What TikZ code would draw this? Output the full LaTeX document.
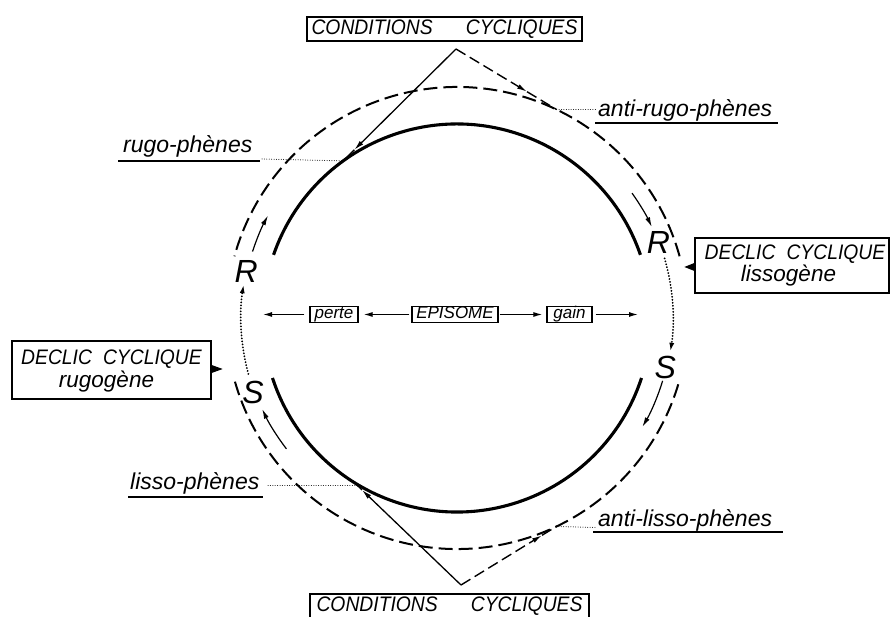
\documentclass[tikz,border=0pt]{standalone}
\usepackage{fontspec}
\setmainfont{Liberation Sans}
\newfontfamily\capsfont{Liberation Sans}[FakeStretch=0.92]
\usetikzlibrary{arrows.meta}
\begin{document}
\begin{tikzpicture}[x=1pt,y=1pt,
  solidarc/.style={line width=3.1pt},
  dasharc/.style={line width=2pt, dash pattern=on 14pt off 6pt},
  movearc/.style={line width=1.2pt, -{Latex[length=10pt,width=5pt]}},
  dotarc/.style={line width=2pt, dash pattern=on 0.01pt off 3pt, line cap=round, -{Latex[length=9pt,width=5pt]}},
  leader/.style={line width=1pt, dash pattern=on 0.01pt off 2.4pt, line cap=round},
  vsolid/.style={line width=1.3pt},
  vdash/.style={line width=1.4pt, dash pattern=on 11pt off 5pt},
  vtip/.style={-{Latex[length=10pt,width=5pt]}},
  uline/.style={line width=1.5pt},
  boxed/.style={draw, line width=1.3pt, inner sep=0pt},
  lbl/.style={font=\itshape\fontsize{23}{23}\selectfont, inner sep=0pt},
  lbltwo/.style={font=\itshape\fontsize{22.5}{22.5}\selectfont, inner sep=0pt},
  caps/.style={font=\capsfont\itshape\fontsize{21}{21}\selectfont},
  letter/.style={font=\itshape\fontsize{32}{32}\selectfont, inner sep=0pt},
  small/.style={font=\itshape\fontsize{17}{17}\selectfont, text height=12pt, text depth=3pt},
  ctip/.style={-{Latex[length=9pt,width=5pt]}}
]
\useasboundingbox (0,0) rectangle (890,617);
\coordinate (C) at (457,299);

% main arcs
\draw[solidarc] ([shift={(19:194)}]C) arc[start angle=19,end angle=161,radius=194];
\draw[solidarc] ([shift={(198:194)}]C) arc[start angle=198,end angle=342,radius=194];
\draw[dasharc] ([shift={(15.5:231)}]C) arc[start angle=15.5,end angle=164.5,radius=231];
\draw[dasharc] ([shift={(196:231)}]C) arc[start angle=196,end angle=344,radius=231];

% movement arrows
\draw[movearc] ([shift={(162:215)}]C) arc[start angle=162,end angle=151.5,radius=215];
\draw[movearc] ([shift={(35.5:215)}]C) arc[start angle=35.5,end angle=25,radius=215];
\draw[movearc] ([shift={(-17:215)}]C) arc[start angle=-17,end angle=-30.5,radius=215];
\draw[movearc] ([shift={(217.5:215)}]C) arc[start angle=217.5,end angle=205,radius=215];

% letters
\node[letter] (RL) at ([shift={(167.5:216)}]C) {R};
\node[letter] (SL) at ([shift={(200:217)}]C) {S};
\node[letter] (RR) at ([shift={(20.5:215)}]C) {R};
\node[letter] (SR) at ([shift={(-13.3:214)}]C) {S};

% dotted transitions
\draw[dotarc] ([shift={(195:216)}]C) arc[start angle=195,end angle=171,radius=216];
\draw[dotarc] ([shift={(16:216)}]C) arc[start angle=16,end angle=-9,radius=216];

% boxes CONDITIONS CYCLIQUES
\node[boxed, caps, minimum width=275pt, minimum height=24pt] (ct) at (444.5,588) {CONDITIONS\hspace{33pt}CYCLIQUES};
\node[boxed, caps, minimum width=279pt, minimum height=25pt] (cb) at (449.5,10.5) {CONDITIONS\hspace{33pt}CYCLIQUES};

% V top
\coordinate (A1) at (456,568);
\coordinate (T1) at (354.3,467.2);
\coordinate (E1) at (343.2,456.1);
\coordinate (DT1) at (527,525.3);
\coordinate (D1) at (556.7,507.4);
\draw[vsolid,vtip] (A1) -- (T1);
\draw[vsolid] (T1) -- (E1);
\draw[vdash,vtip] (A1) -- (DT1);
\draw[vdash] (DT1) -- (D1);

% V bottom
\coordinate (A2) at (461,32);
\coordinate (T2) at (362,127);
\coordinate (E2) at (354.6,134.2);
\coordinate (DT2) at (542,81.7);
\coordinate (D2) at (556.4,90.5);
\draw[vsolid,vtip] (A2) -- (T2);
\draw[vsolid] (T2) -- (E2);
\draw[vdash,vtip] (A2) -- (DT2);
\draw[vdash] (DT2) -- (D2);

% labels
\node[lbl, anchor=base west] (rugo) at (123,464) {rugo-phènes};
\draw[uline] (118,456) -- (260,456);
\coordinate (rugoL) at (262,458);
\draw[leader] (rugoL) -- (E1);

\node[lbl, anchor=base west] (arugo) at (598,500) {anti-rugo-phènes};
\draw[uline] (595,494) -- (778,494);
\coordinate (arugoL) at (597,507.4);
\draw[leader] (D1) -- (arugoL);

\node[lbl, anchor=base west] (lisso) at (130,127) {lisso-phènes};
\draw[uline] (128,120) -- (263,120);
\coordinate (lissoL) at (268,131);
\coordinate (lissoR) at (357,131);
\draw[leader] (lissoL) -- (lissoR);

\node[lbl, anchor=base west] (alisso) at (598,90) {anti-lisso-phènes};
\draw[uline] (593,85) -- (783,85);
\coordinate (alissoL) at (597,89.5);
\draw[leader] (D2) -- (alissoL);

% DECLIC boxes
\node[boxed, minimum width=194pt, minimum height=55pt] (dl) at (792,351.5) {};
\node[caps, anchor=base, inner sep=0pt] at (795,357) {DECLIC\hspace{11pt}CYCLIQUE};
\node[lbltwo, anchor=base] at (788.5,335) {lissogène};
\fill ([yshift=2.5pt]dl.west) -- ([xshift=-10pt,yshift=-1.5pt]dl.west) -- ([yshift=-5.5pt]dl.west) -- cycle;

\node[boxed, minimum width=199pt, minimum height=58pt] (dr) at (111.5,247) {};
\node[caps, anchor=base, inner sep=0pt] at (111.5,252) {DECLIC\hspace{11pt}CYCLIQUE};
\node[lbltwo, anchor=base] at (106.5,229) {rugogène};
\fill ([yshift=5pt]dr.east) -- ([xshift=11pt,yshift=1pt]dr.east) -- ([yshift=-3pt]dr.east) -- cycle;

% center row
\node[boxed, small, minimum width=48pt, minimum height=16pt] (perte) at (334,302.5) {perte};
\node[boxed, small, minimum width=86pt, minimum height=16pt] (epi) at (455,302.5) {EPISOME};
\node[boxed, small, minimum width=45pt, minimum height=16pt] (gain) at (569.5,302.5) {gain};
\coordinate (lend) at (263,302.5);
\coordinate (rend) at (638,302.5);
\draw[line width=1.2pt, ctip, shorten <=5pt] (perte.west) -- (lend);
\draw[line width=1.2pt, ctip, shorten <=2pt, shorten >=5pt] (epi.west) -- (perte.east);
\draw[line width=1.2pt, ctip, shorten <=1pt, shorten >=4pt] (epi.east) -- (gain.west);
\draw[line width=1.2pt, ctip, shorten <=3pt] (gain.east) -- (rend);
\end{tikzpicture}
\end{document}
